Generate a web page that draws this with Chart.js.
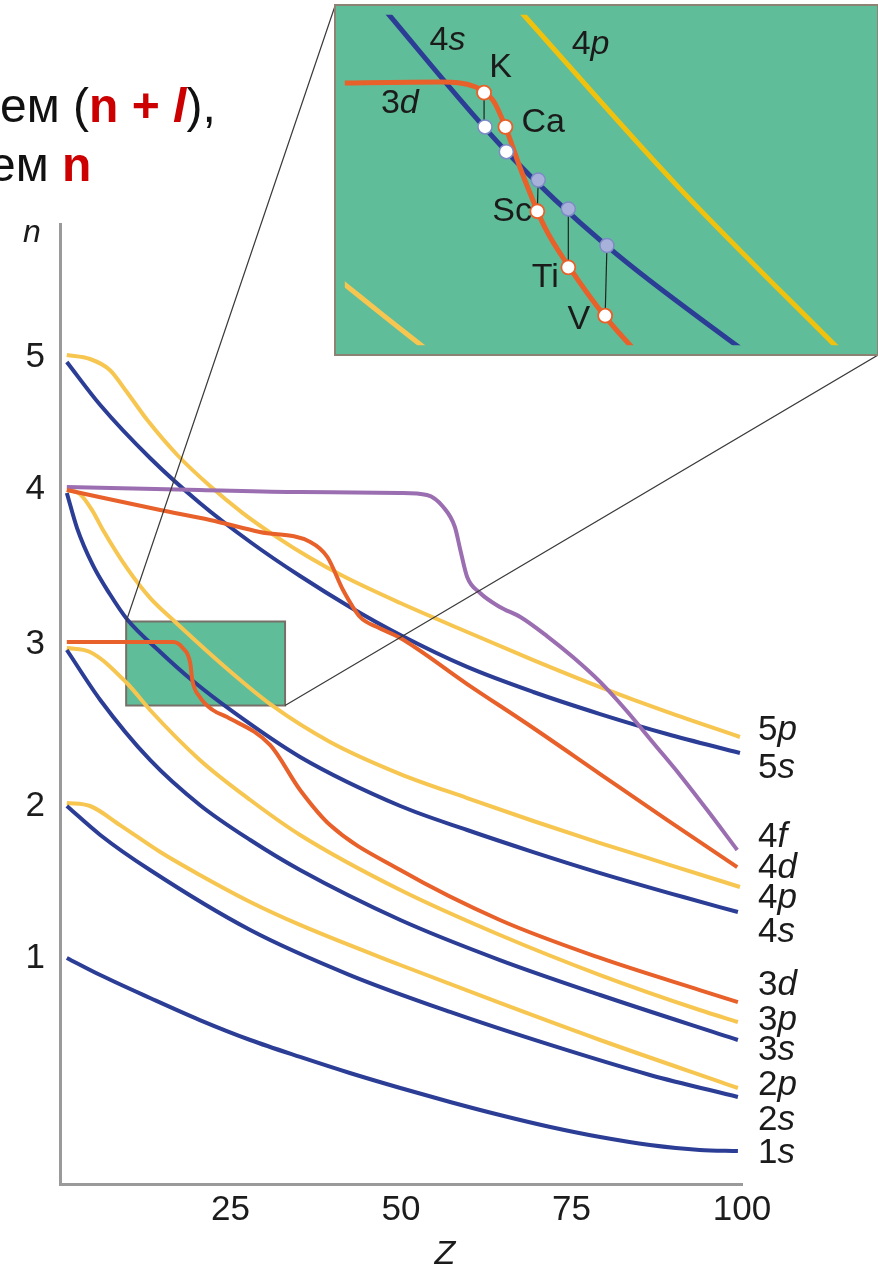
<!DOCTYPE html>
<html>
<head>
<meta charset="utf-8">
<script src="https://cdn.jsdelivr.net/npm/chart.js@4.4.0/dist/chart.umd.min.js"></script>
<style>
html, body { margin: 0; padding: 0; background: #fff; }
body { width: 878px; height: 1264px; position: relative; overflow: hidden; font-family: "Liberation Sans", Arial, sans-serif; }
#main { position: absolute; left: 0; top: 0; }
#insetBox { position: absolute; left: 334px; top: 4px; width: 541px; height: 348px; border: 2px solid #8d8274; background: #5fbd99; }
#inset { position: absolute; left: 0; top: 0; }
.cap { position: absolute; font-size: 48px; line-height: 48px; white-space: nowrap; color: #111; }
.red { color: #cc0000; font-weight: bold; }
</style>
</head>
<body>
<canvas id="main" width="878" height="1264"></canvas>
<div id="insetBox"><canvas id="inset" width="541" height="348"></canvas></div>
<div class="cap" style="left:0px; top:82px;">ем (<span class="red">n + <i>l</i></span>),</div>
<div class="cap" style="left:-11px; top:141px;">ем <span class="red">n</span></div>
<script>
const FONT = '"Liberation Sans", Arial, sans-serif';

// axis ticks
const zTicks = [25, 50, 75, 100];
const nTickPositions = [1.507, 2.52, 3.6, 4.633, 5.513];
const nTickLabels = ['1', '2', '3', '4', '5'];

// main curves: Z values and level values
const z1s = [1, 5.9, 13.2, 20.5, 27.9, 35.2, 42.5, 49.9, 57.2, 64.5, 71.9, 79.2, 86.5, 93.8, 99.4];
const n1s = [1.507, 1.393, 1.24, 1.093, 0.96, 0.847, 0.74, 0.64, 0.547, 0.46, 0.38, 0.313, 0.26, 0.227, 0.22];
const z2s = [1, 5.9, 13.2, 27.9, 42.5, 57.2, 71.9, 86.5, 99.4];
const n2s = [2.52, 2.327, 2.093, 1.693, 1.393, 1.147, 0.927, 0.727, 0.58];
const z2p = [1, 4.4, 8.8, 14.7, 20.5, 27.9, 35.2, 49.9, 64.5, 79.2, 99.4];
const n2p = [2.54, 2.52, 2.393, 2.213, 2.06, 1.88, 1.727, 1.46, 1.207, 0.96, 0.64];
const z3s = [1, 5.9, 13.2, 20.5, 27.9, 35.2, 49.9, 64.5, 79.2, 99.4];
const n3s = [3.56, 3.227, 2.827, 2.527, 2.293, 2.093, 1.76, 1.493, 1.26, 0.96];
const z3p = [1, 4.4, 9.8, 13.2, 20.5, 27.9, 35.2, 49.9, 64.5, 79.2, 93.8, 99.4];
const n3p = [3.573, 3.547, 3.34, 3.16, 2.827, 2.56, 2.327, 1.96, 1.66, 1.393, 1.16, 1.08];
const z3d = [1, 16.6, 18.0, 19.1, 19.4, 20.5, 22.4, 24.5, 30.8, 35.2, 39.6, 49.9, 64.5, 79.2, 93.8, 99.4];
const n3d = [3.613, 3.613, 3.573, 3.473, 3.36, 3.247, 3.16, 3.113, 2.927, 2.627, 2.393, 2.093, 1.76, 1.507, 1.293, 1.213];
const z4s = [1, 2.5, 4.8, 7.3, 9.8, 14.7, 19.5, 25.4, 35.2, 49.9, 59.7, 69.4, 79.2, 91.4, 99.4];
const n4s = [4.607, 4.373, 4.127, 3.933, 3.767, 3.547, 3.353, 3.147, 2.847, 2.52, 2.36, 2.213, 2.073, 1.913, 1.813];
const z4p = [1, 2.9, 4.7, 6.3, 9.8, 13.2, 16.9, 24.2, 31.2, 39.6, 49.9, 59.7, 69.4, 79.2, 89.0, 99.7];
const n4p = [4.627, 4.6, 4.493, 4.36, 4.107, 3.907, 3.747, 3.447, 3.187, 2.947, 2.733, 2.573, 2.42, 2.273, 2.133, 1.98];
const z4d = [1, 14.7, 22.0, 29.3, 36.7, 39.2, 41.5, 44.0, 46.5, 49.9, 59.7, 69.4, 79.2, 89.0, 99.3];
const n4d = [4.627, 4.493, 4.427, 4.347, 4.28, 4.18, 3.96, 3.78, 3.713, 3.64, 3.333, 3.04, 2.733, 2.427, 2.113];
const z4f = [1, 20.5, 35.2, 49.9, 53.8, 56.2, 57.9, 58.7, 59.7, 61.6, 64.5, 67.5, 71.4, 75.2, 79.2, 83.1, 87.0, 90.9, 94.9, 99.3];
const n4f = [4.647, 4.627, 4.613, 4.607, 4.593, 4.513, 4.38, 4.227, 4.047, 3.94, 3.847, 3.78, 3.653, 3.513, 3.347, 3.153, 2.94, 2.727, 2.493, 2.227];
const z5s = [1, 5.9, 13.2, 20.5, 27.9, 35.2, 42.5, 49.9, 59.7, 69.4, 79.2, 89.0, 99.7];
const n5s = [5.48, 5.193, 4.84, 4.54, 4.28, 4.053, 3.847, 3.66, 3.447, 3.28, 3.133, 3.0, 2.873];
const z5p = [1, 4.4, 7.3, 9.8, 12.8, 17.2, 22.0, 26.8, 31.8, 36.7, 41.5, 49.9, 59.7, 69.4, 79.2, 89.0, 99.7];
const n5p = [5.527, 5.5, 5.427, 5.28, 5.093, 4.86, 4.653, 4.473, 4.313, 4.173, 4.053, 3.873, 3.68, 3.493, 3.313, 3.147, 2.98];

// right-hand labels and their heights
const curveNames = ['5p', '5s', '4f', '4d', '4p', '4s', '3d', '3p', '3s', '2p', '2s', '1s'];
const curveLabelN = [3.027, 2.773, 2.313, 2.107, 1.907, 1.68, 1.327, 1.093, 0.893, 0.66, 0.427, 0.207];

// region that is magnified in the inset
const zoomZ = [9.7, 33];
const zoomN = [3.19, 3.75];

// inset curves
const iz4s = [11.0, 16.9, 21.4, 28.0];
const in4s = [3.78, 3.518, 3.357, 3.165];
const iz4p = [17.0, 24.5, 32.3];
const in4p = [3.778, 3.46, 3.16];
const iz3d = [9.0, 14.0, 15.5, 16.3, 16.8, 17.6, 18.6, 19.7, 21.3, 23.0];
const in3d = [3.634, 3.636, 3.628, 3.605, 3.565, 3.481, 3.39, 3.322, 3.238, 3.165];
const iz3p = [9.0, 9.7, 11.4, 13.1, 13.6];
const in3p = [3.314, 3.293, 3.241, 3.19, 3.175];

// elements K..V: 3d and 4s positions
const elements = ['K', 'Ca', 'Sc', 'Ti', 'V'];
const el3dZ = [15.9, 16.85, 18.27, 19.65, 21.29];
const el3dN = [3.618, 3.560, 3.417, 3.322, 3.240];
const el4sZ = [15.94, 16.89, 18.31, 19.65, 21.37];
const el4sN = [3.560, 3.518, 3.470, 3.421, 3.359];
const el4sFilled = [false, false, true, true, true];
const linkedElements = ['K', 'Sc', 'Ti', 'V'];

// inset text labels
const insetTags = ['4s', '4p', 'K', '3d', 'Ca', 'Sc', 'Ti', 'V'];
const insetTagZ = [14.27, 20.64, 16.63, 12.15, 18.53, 17.15, 18.62, 20.12];
const insetTagN = [3.707, 3.699, 3.66, 3.599, 3.567, 3.417, 3.304, 3.233];

const BLUE = '#2b3d95', YELLOW = '#f7c650', ORANGE = '#e8602a', PURPLE = '#9b6eb1';
const GREEN = '#5fbd99';

function pts(zs, ns) { return zs.map((z, i) => ({ x: z, y: ns[i] })); }

function drawOrbital(ctx, text, x, y, size, align) {
  // digit upright, orbital letter italic
  const isOrb = /^[0-9]/.test(text);
  const head = isOrb ? text.slice(0, 1) : text, rest = isOrb ? text.slice(1) : '';
  const upright = size + 'px ' + FONT, italic = 'italic ' + size + 'px ' + FONT;
  ctx.font = upright;
  const w1 = ctx.measureText(head).width;
  ctx.font = italic;
  const w2 = ctx.measureText(rest).width;
  let x0 = x;
  if (align === 'center') x0 = x - (w1 + w2) / 2;
  ctx.textAlign = 'left';
  ctx.textBaseline = 'middle';
  ctx.fillStyle = '#1b1b1b';
  ctx.font = upright;
  ctx.fillText(head, x0, y);
  if (rest) {
    ctx.font = italic;
    ctx.fillText(rest, x0 + w1, y);
  }
}

const mainCurves = [
  { name: '3d', z: z3d, n: n3d, color: ORANGE },
  { name: '4d', z: z4d, n: n4d, color: ORANGE },
  { name: '4f', z: z4f, n: n4f, color: PURPLE },
  { name: '1s', z: z1s, n: n1s, color: BLUE },
  { name: '2s', z: z2s, n: n2s, color: BLUE },
  { name: '2p', z: z2p, n: n2p, color: YELLOW },
  { name: '3s', z: z3s, n: n3s, color: BLUE },
  { name: '3p', z: z3p, n: n3p, color: YELLOW },
  { name: '4s', z: z4s, n: n4s, color: BLUE },
  { name: '4p', z: z4p, n: n4p, color: YELLOW },
  { name: '5s', z: z5s, n: n5s, color: BLUE },
  { name: '5p', z: z5p, n: n5p, color: YELLOW }
];

const mainDecor = {
  id: 'mainDecor',
  beforeDatasetsDraw(chart) {
    const { ctx, scales: { x, y } } = chart;
    const x0 = x.getPixelForValue(zoomZ[0]), x1 = x.getPixelForValue(zoomZ[1]);
    const y0 = y.getPixelForValue(zoomN[1]), y1 = y.getPixelForValue(zoomN[0]);
    ctx.save();
    ctx.fillStyle = GREEN;
    ctx.fillRect(x0, y0, x1 - x0, y1 - y0);
    ctx.strokeStyle = '#777068';
    ctx.lineWidth = 2;
    ctx.strokeRect(x0, y0, x1 - x0, y1 - y0);
    ctx.restore();
  },
  afterDatasetsDraw(chart) {
    const { ctx, chartArea, scales: { x, y } } = chart;
    const box = document.getElementById('insetBox').getBoundingClientRect();
    ctx.save();
    // connectors to the magnified view
    ctx.strokeStyle = '#3a3a3a';
    ctx.lineWidth = 1.2;
    ctx.beginPath();
    ctx.moveTo(x.getPixelForValue(zoomZ[0]), y.getPixelForValue(zoomN[1]));
    ctx.lineTo(box.left + 1, box.top + 2);
    ctx.moveTo(x.getPixelForValue(zoomZ[1]), y.getPixelForValue(zoomN[0]));
    ctx.lineTo(box.right - 1, box.bottom - 1);
    ctx.stroke();
    // curve names
    curveNames.forEach((nm, i) => {
      drawOrbital(ctx, nm, chartArea.right + 16, y.getPixelForValue(curveLabelN[i]), 35, 'left');
    });
    // axis titles
    ctx.fillStyle = '#1b1b1b';
    ctx.textAlign = 'center';
    ctx.textBaseline = 'alphabetic';
    ctx.font = 'italic 32px ' + FONT;
    ctx.fillText('n', 32, 242);
    ctx.font = 'italic 34px ' + FONT;
    ctx.fillText('Z', 445, 1264);
    ctx.restore();
  }
};

new Chart(document.getElementById('main'), {
  type: 'line',
  data: {
    datasets: mainCurves.map(c => ({
      label: c.name,
      data: pts(c.z, c.n),
      borderColor: c.color,
      borderWidth: 4,
      pointRadius: 0,
      fill: false,
      cubicInterpolationMode: 'monotone'
    }))
  },
  options: {
    responsive: false,
    animation: false,
    events: [],
    layout: { padding: { top: 224, right: 136, left: 0, bottom: 0 } },
    plugins: { legend: { display: false }, tooltip: { enabled: false } },
    scales: {
      x: {
        type: 'linear', min: 0, max: 100,
        grid: { display: false, drawTicks: false },
        border: { color: '#9a9a9a', width: 3 },
        afterBuildTicks: s => { s.ticks = zTicks.map(v => ({ value: v })); },
        afterFit: s => { s.height = 80; },
        ticks: { font: { size: 35, family: FONT }, color: '#1c1c1c', padding: 5, maxRotation: 0 }
      },
      y: {
        type: 'linear', min: 0, max: 6.4,
        grid: { display: false, drawTicks: false },
        border: { color: '#9a9a9a', width: 3 },
        afterBuildTicks: s => { s.ticks = nTickPositions.map(v => ({ value: v })); },
        afterFit: s => { s.width = 60; },
        ticks: {
          font: { size: 35, family: FONT }, color: '#1c1c1c', padding: 15,
          callback: v => nTickLabels[nTickPositions.indexOf(v)]
        }
      }
    }
  },
  plugins: [mainDecor]
});

// inset: magnified view
const insetDecor = {
  id: 'insetDecor',
  afterDatasetsDraw(chart) {
    const { ctx, scales: { x, y } } = chart;
    ctx.save();
    insetTags.forEach((t, i) => {
      drawOrbital(ctx, t, x.getPixelForValue(insetTagZ[i]), y.getPixelForValue(insetTagN[i]), 34, 'center');
    });
    ctx.restore();
  }
};

const linkSets = linkedElements.map(el => {
  const i = elements.indexOf(el);
  return {
    data: [{ x: el4sZ[i], y: el4sN[i] }, { x: el3dZ[i], y: el3dN[i] }],
    borderColor: '#222', borderWidth: 1.2, pointRadius: 0, order: 1
  };
});

new Chart(document.getElementById('inset'), {
  type: 'line',
  data: {
    datasets: [
      { data: pts(el3dZ, el3dN), showLine: false, pointRadius: 7, pointBorderWidth: 1.8,
        pointBackgroundColor: '#ffffff', pointBorderColor: ORANGE, order: 0 },
      { data: pts(el4sZ, el4sN), showLine: false, pointRadius: 7, pointBorderWidth: 1.5,
        pointBackgroundColor: el4sFilled.map(f => f ? '#a7b1d9' : '#ffffff'), pointBorderColor: '#7d8cc4', order: 0 },
      ...linkSets,
      { data: pts(iz3d, in3d), borderColor: ORANGE, borderWidth: 5, pointRadius: 0, cubicInterpolationMode: 'monotone', order: 2 },
      { data: pts(iz4s, in4s), borderColor: BLUE, borderWidth: 5, pointRadius: 0, cubicInterpolationMode: 'monotone', order: 3 },
      { data: pts(iz4p, in4p), borderColor: '#f0c20e', borderWidth: 5, pointRadius: 0, cubicInterpolationMode: 'monotone', order: 3 },
      { data: pts(iz3p, in3p), borderColor: YELLOW, borderWidth: 5, pointRadius: 0, cubicInterpolationMode: 'monotone', order: 3 }
    ]
  },
  options: {
    responsive: false,
    animation: false,
    events: [],
    layout: { padding: 0 },
    plugins: { legend: { display: false }, tooltip: { enabled: false } },
    scales: {
      x: { type: 'linear', min: zoomZ[0], max: zoomZ[1], display: false },
      y: { type: 'linear', min: zoomN[0], max: zoomN[1], display: false }
    }
  },
  plugins: [insetDecor]
});
</script>
</body>
</html>
